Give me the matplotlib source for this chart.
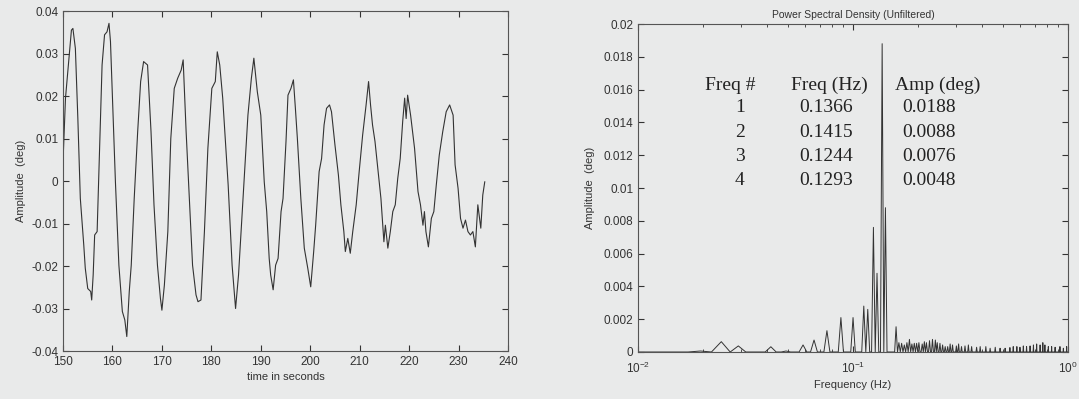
import numpy as np
import matplotlib
matplotlib.use('Agg')
import matplotlib.pyplot as plt
from matplotlib.ticker import FuncFormatter, LogLocator

# Zeitreihe
time_s = [150.0, 150.5, 151.2, 151.7, 152.0, 152.5, 153.0, 153.5, 154.0, 154.2,
          154.5, 155.0, 155.6, 155.8, 156.1, 156.4, 156.9, 157.3, 157.9, 158.4,
          158.9, 159.3, 159.6, 160.0, 160.6, 161.3, 162.0, 162.5, 162.9, 163.4,
          163.8, 164.4, 165.1, 165.7, 166.3, 167.1, 167.8, 168.4, 169.1, 169.7,
          170.0, 170.5, 171.2, 171.8, 172.5, 173.2, 173.9, 174.3, 174.9, 175.6,
          176.2, 176.9, 177.3, 177.9, 178.6, 179.3, 180.1, 180.8, 181.2, 181.7,
          182.3, 183.4, 184.2, 184.9, 185.5, 186.4, 187.4, 188.1, 188.6, 189.3,
          190.0, 190.7, 191.2, 191.7, 192.0, 192.5, 193.0, 193.5, 194.1, 194.5,
          195.1, 195.5, 196.1, 196.6, 197.0, 197.4, 198.1, 198.8, 199.5, 200.1,
          200.7, 201.1, 201.8, 202.3, 202.8, 203.3, 203.9, 204.3, 205.0, 205.7,
          206.2, 206.8, 207.1, 207.6, 208.1, 208.6, 209.3, 209.9, 210.6, 211.3,
          211.8, 212.2, 212.6, 213.1, 213.6, 214.3, 214.9, 215.2, 215.7, 216.2,
          216.7, 217.2, 217.7, 218.2, 218.7, 219.1, 219.4, 219.7, 220.3, 220.7,
          221.1, 221.8, 222.3, 222.8, 223.1, 223.4, 223.9, 224.5, 225.0, 225.5,
          226.1, 226.8, 227.5, 228.2, 228.9, 229.3, 229.9, 230.4, 230.9, 231.4,
          231.9, 232.4, 232.9, 233.4, 233.9, 234.5, 234.9, 235.3]
amp_deg = [0.0045, 0.0195, 0.0289, 0.0355, 0.0359, 0.0312, 0.0147, -0.0041, -0.0119, -0.0151,
           -0.0205, -0.0253, -0.0260, -0.0280, -0.0221, -0.0127, -0.0119, 0.0038, 0.0273, 0.0344,
           0.0351, 0.0371, 0.0328, 0.0195, -0.0002, -0.0198, -0.0307, -0.0327, -0.0366, -0.0260,
           -0.0198, -0.0041, 0.0116, 0.0234, 0.0281, 0.0273, 0.0116, -0.0056, -0.0198, -0.0276,
           -0.0304, -0.0245, -0.0119, 0.0100, 0.0218, 0.0242, 0.0261, 0.0285, 0.0116, -0.0056,
           -0.0198, -0.0268, -0.0284, -0.0280, -0.0119, 0.0077, 0.0218, 0.0234, 0.0304, 0.0273,
           0.0195, -0.0009, -0.0198, -0.0300, -0.0221, -0.0041, 0.0155, 0.0242, 0.0289, 0.0210,
           0.0155, -0.0002, -0.0072, -0.0182, -0.0221, -0.0256, -0.0198, -0.0182, -0.0072, -0.0041,
           0.0093, 0.0202, 0.0218, 0.0238, 0.0171, 0.0100, -0.0041, -0.0158, -0.0205, -0.0249,
           -0.0166, -0.0104, 0.0022, 0.0053, 0.0132, 0.0171, 0.0179, 0.0163, 0.0085, 0.0014,
           -0.0056, -0.0119, -0.0166, -0.0135, -0.0170, -0.0119, -0.0056, 0.0022, 0.0108, 0.0179,
           0.0234, 0.0179, 0.0132, 0.0093, 0.0038, -0.0041, -0.0143, -0.0104, -0.0158, -0.0119,
           -0.0072, -0.0056, 0.0006, 0.0053, 0.0140, 0.0195, 0.0147, 0.0202, 0.0155, 0.0116,
           0.0077, -0.0025, -0.0056, -0.0104, -0.0072, -0.0119, -0.0155, -0.0088, -0.0072, -0.0009,
           0.0061, 0.0116, 0.0163, 0.0179, 0.0155, 0.0038, -0.0017, -0.0088, -0.0111, -0.0092,
           -0.0119, -0.0127, -0.0119, -0.0155, -0.0056, -0.0111, -0.0033, -0.0002]

# Spektrum: Spitzen (Frequenz in Hz, Amplitude in deg), sonst Null
df = 0.00244
n_bins = 410
spike_freq = [0.0195, 0.0244, 0.0293, 0.0415, 0.0488, 0.0586, 0.0659, 0.0756, 0.0878, 0.1000,
              0.1122, 0.1171, 0.1244, 0.1293, 0.1366, 0.1415,
              0.158, 0.1637, 0.1672, 0.1727, 0.1777, 0.1828, 0.1875, 0.1929, 0.1979, 0.2034,
              0.2087, 0.2146, 0.2202, 0.2281, 0.2349, 0.2408, 0.2468, 0.2540, 0.2615, 0.2680,
              0.2758, 0.2827, 0.2909, 0.3014, 0.3090, 0.3204, 0.3319, 0.3439, 0.3566, 0.3762,
              0.3897, 0.4156, 0.4338, 0.4576, 0.4827, 0.5093, 0.5373, 0.5567, 0.5772, 0.5980,
              0.6197, 0.6425, 0.6657, 0.6896, 0.7152, 0.7410, 0.7627, 0.7816, 0.8098, 0.8400,
              0.8700, 0.9179, 0.9508, 0.9862]
spike_amp = [0.00006, 0.00063, 0.00037, 0.00032, 0.00006, 0.00043, 0.00073, 0.0013, 0.0021, 0.0021,
             0.0028, 0.0026, 0.0076, 0.0048, 0.0188, 0.0088,
             0.00154, 0.00057, 0.00053, 0.00043, 0.00057, 0.00077, 0.00049, 0.00053, 0.00053, 0.00057,
             0.00049, 0.00063, 0.00057, 0.00069, 0.00077, 0.00073, 0.00057, 0.00053, 0.00043, 0.00033,
             0.00033, 0.00049, 0.00043, 0.00037, 0.00049, 0.00033, 0.00037, 0.00043, 0.00033, 0.00029,
             0.00033, 0.00033, 0.00023, 0.00029, 0.00023, 0.00023, 0.00027, 0.00033, 0.00033, 0.00029,
             0.00037, 0.00033, 0.00037, 0.00043, 0.00049, 0.00043, 0.00057, 0.00043, 0.00033, 0.00033,
             0.00029, 0.00033, 0.00023, 0.00033]

table_freq_no = ['1', '2', '3', '4']
table_freq_hz = ['0.1366', '0.1415', '0.1244', '0.1293']
table_amp = ['0.0188', '0.0088', '0.0076', '0.0048']

bg = '#e9eaea'
ink = '#333333'
plt.rcParams['font.family'] = ['Liberation Sans', 'DejaVu Sans']
plt.rcParams['axes.unicode_minus'] = False

fig = plt.figure(figsize=(10.79, 3.99), dpi=100, facecolor=bg)

# linkes Diagramm
ax1 = fig.add_axes([0.0584, 0.1203, 0.4124, 0.8521], facecolor=bg)
ax1.plot(time_s, amp_deg, color=ink, lw=0.8)
ax1.set_xlim(150, 240)
ax1.set_ylim(-0.04, 0.04)
ax1.set_xticks(np.arange(150, 241, 10))
ax1.set_yticks(np.arange(-0.04, 0.041, 0.01))
ax1.yaxis.set_major_formatter(FuncFormatter(lambda v, p: '%g' % round(v, 4)))
ax1.set_xlabel('time in seconds', fontsize=8, color=ink, labelpad=3)
ax1.set_ylabel('Amplitude  (deg)', fontsize=8, color=ink, labelpad=4)

# rechtes Diagramm
bin_freq = df * np.arange(n_bins)
bin_amp = np.zeros(n_bins)
for f, a in zip(spike_freq, spike_amp):
    bin_amp[int(round(f / df))] = a

ax2 = fig.add_axes([0.5913, 0.1178, 0.3985, 0.8220], facecolor=bg)
ax2.plot(bin_freq[1:], bin_amp[1:], color=ink, lw=0.7)
ax2.set_xscale('log')
ax2.set_xlim(1e-2, 1e0)
ax2.set_ylim(0, 0.02)
ax2.set_yticks(np.arange(0, 0.0201, 0.002))
ax2.yaxis.set_major_formatter(FuncFormatter(lambda v, p: '%g' % round(v, 4)))
ax2.xaxis.set_minor_locator(LogLocator(base=10, subs=np.arange(2, 10)))
ax2.set_title('Power Spectral Density (Unfiltered)', fontsize=7.5, color=ink, pad=4)
ax2.set_xlabel('Frequency (Hz)', fontsize=8, color=ink, labelpad=3)
ax2.set_ylabel('Amplitude  (deg)', fontsize=8, color=ink, labelpad=6)

for ax in (ax1, ax2):
    ax.tick_params(which='both', direction='in', top=True, right=True,
                   labelsize=8.5, colors=ink, length=4)
    ax.tick_params(which='minor', length=2.5)
    for s in ax.spines.values():
        s.set_color('#555555')
        s.set_linewidth(0.8)
ax2.tick_params(axis='x', which='major', pad=6)

# Tabelle
serif = dict(family=['Liberation Serif', 'DejaVu Serif'], fontsize=14, color='#222222',
             ha='center', va='center', transform=ax2.transAxes)
ax2.text(0.214, 0.814, 'Freq #', **serif)
ax2.text(0.446, 0.814, 'Freq (Hz)', **serif)
ax2.text(0.698, 0.814, 'Amp (deg)', **serif)
row_y = [0.744, 0.668, 0.595, 0.524]
for y, n, f, a in zip(row_y, table_freq_no, table_freq_hz, table_amp):
    ax2.text(0.237, y, n, **serif)
    ax2.text(0.437, y, f, **serif)
    ax2.text(0.677, y, a, **serif)

fig.savefig('out.png', dpi=100, facecolor=bg)
